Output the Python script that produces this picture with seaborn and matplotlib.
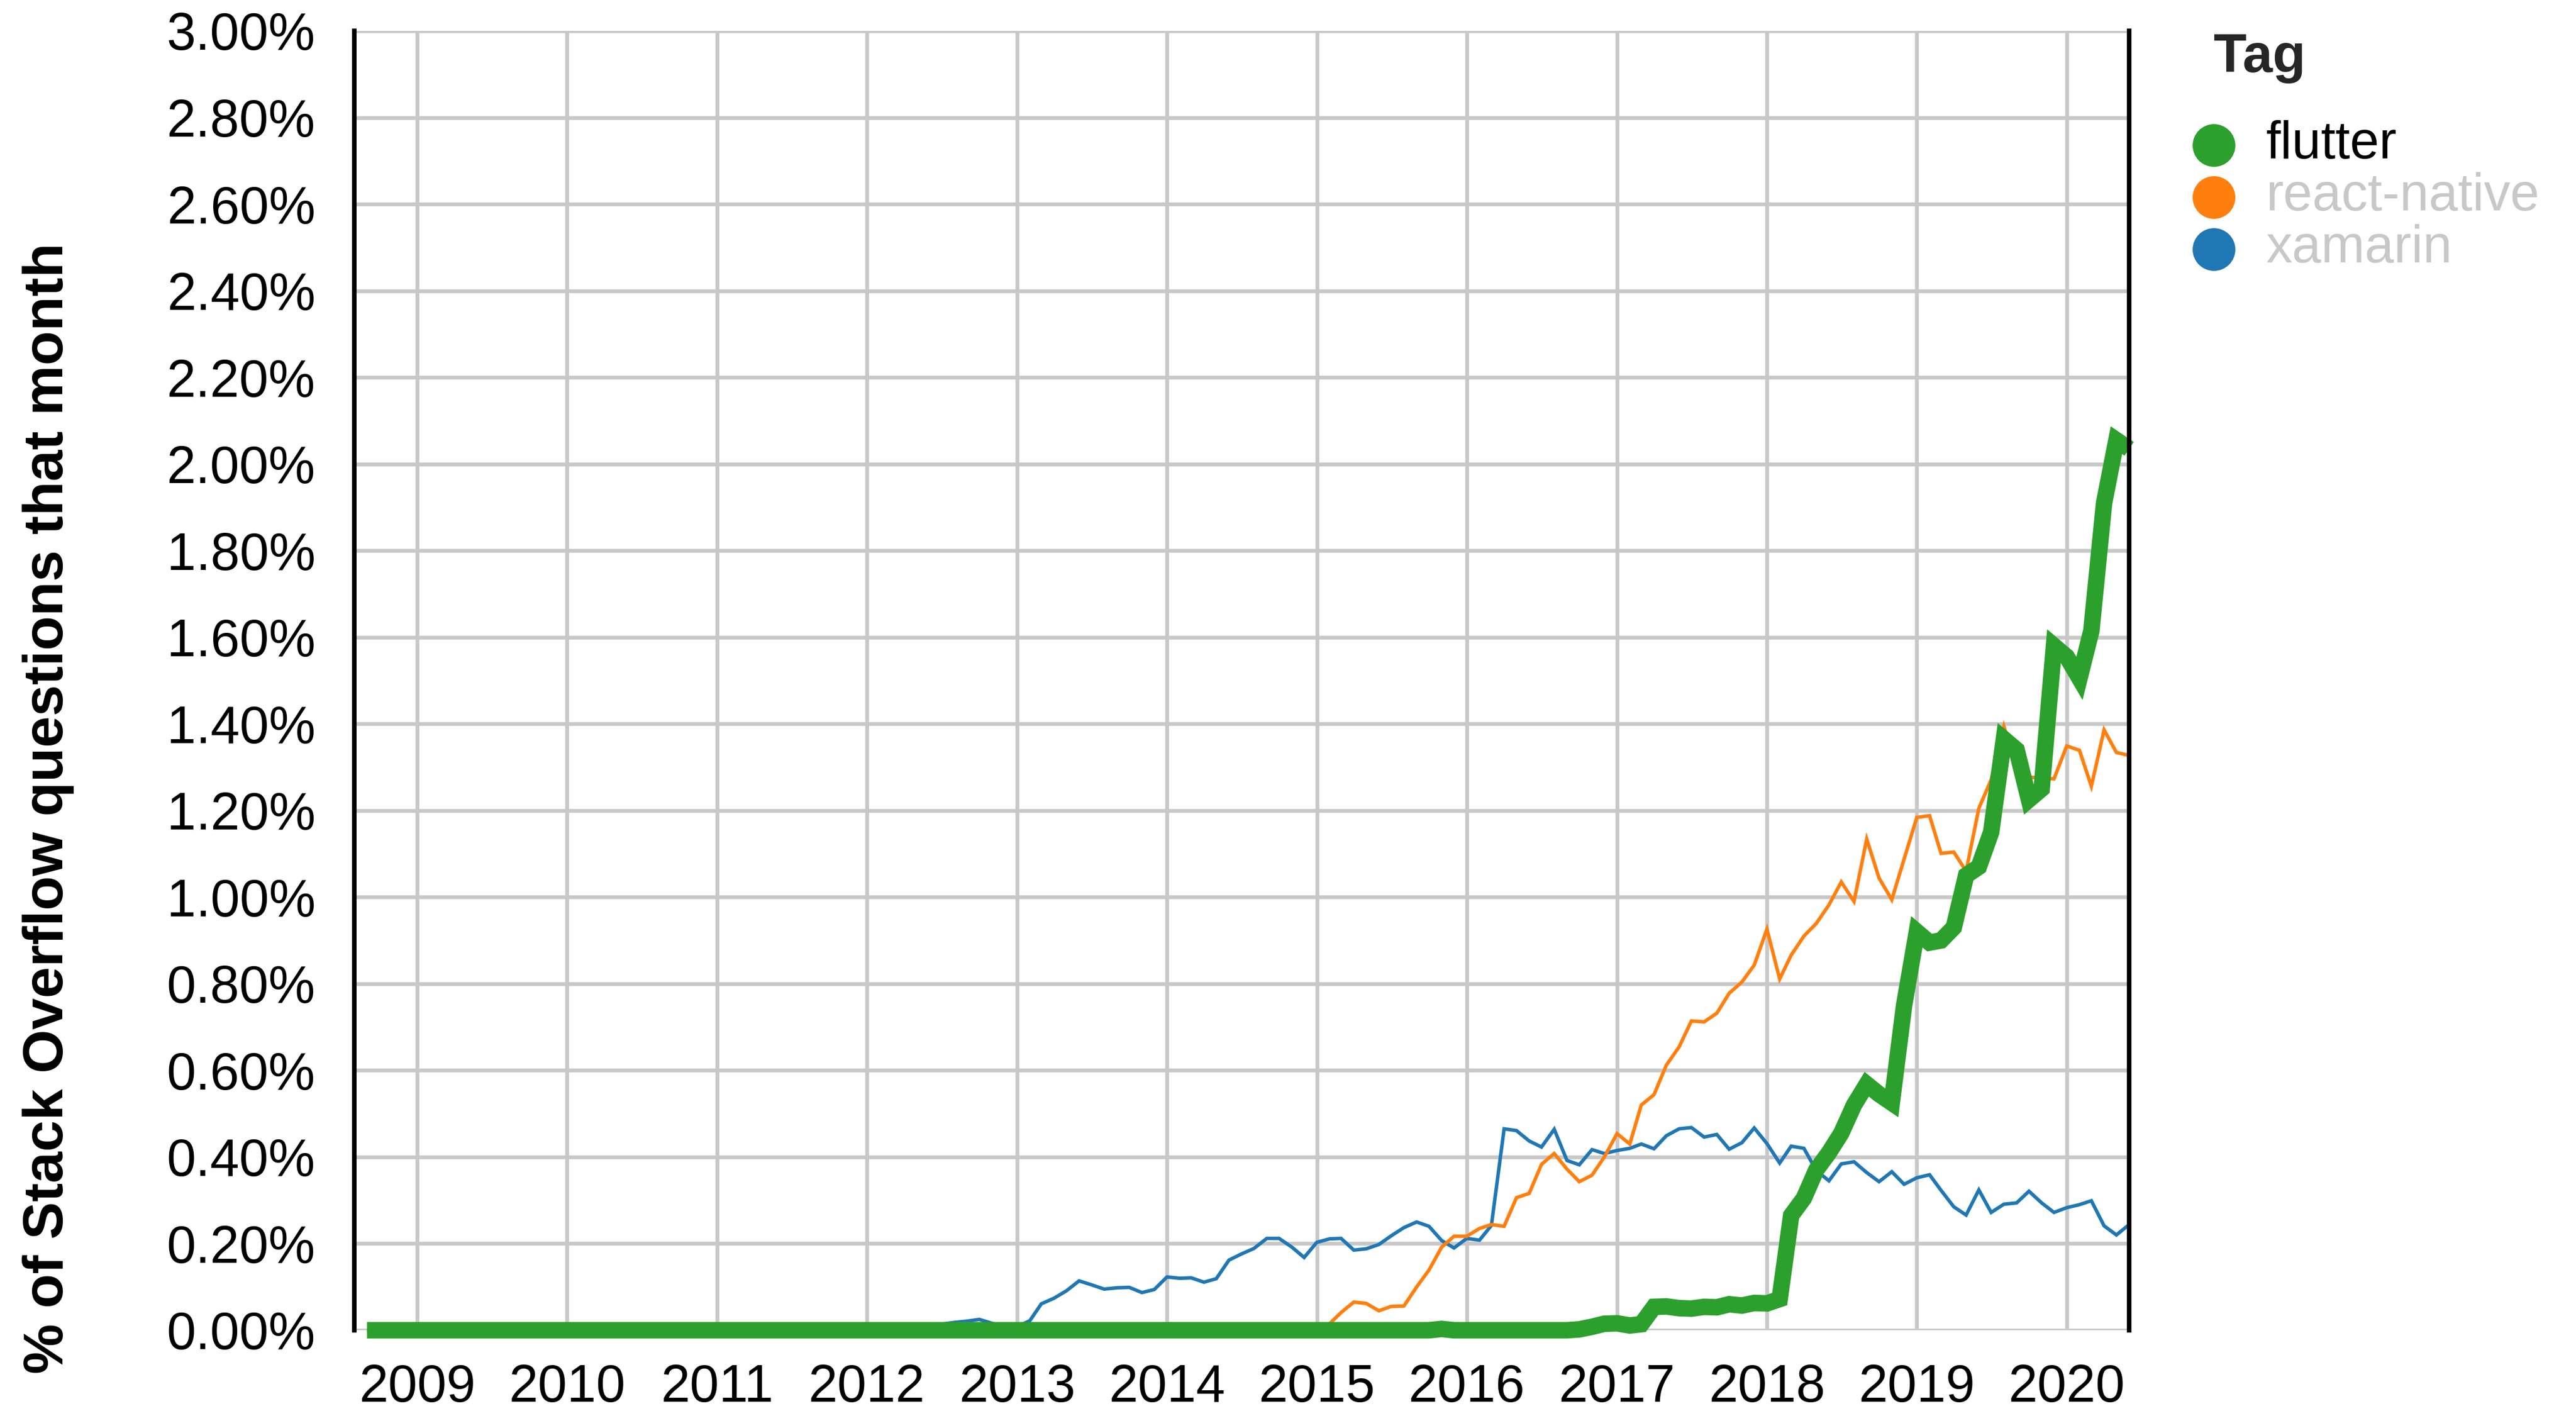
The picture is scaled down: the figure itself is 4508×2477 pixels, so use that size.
import pandas as pd
import seaborn as sns
import matplotlib.pyplot as plt
import matplotlib.dates as mdates
from matplotlib.lines import Line2D
from matplotlib.ticker import FuncFormatter

# monthly share of Stack Overflow questions (%), Sep 2008 .. Jun 2020
months = pd.date_range("2008-09-01", "2020-06-01", freq="MS")

flutter = [
    0, 0, 0, 0,                                                        # 2008
    0, 0, 0, 0, 0, 0, 0, 0, 0, 0, 0, 0,                                # 2009
    0, 0, 0, 0, 0, 0, 0, 0, 0, 0, 0, 0,                                # 2010
    0, 0, 0, 0, 0, 0, 0, 0, 0, 0, 0, 0,                                # 2011
    0, 0, 0, 0, 0, 0, 0, 0, 0, 0, 0, 0,                                # 2012
    0, 0, 0, 0, 0, 0, 0, 0, 0, 0, 0, 0,                                # 2013
    0, 0, 0, 0, 0, 0, 0, 0, 0, 0, 0, 0,                                # 2014
    0, 0, 0, 0, 0, 0, 0, 0, 0, 0, 0.003, 0,                            # 2015
    0, 0, 0, 0, 0, 0, 0, 0, 0, 0.002, 0.008, 0.015,                    # 2016
    0.016, 0.011, 0.014, 0.054, 0.055, 0.051, 0.050, 0.054, 0.053, 0.060, 0.057, 0.063,  # 2017
    0.062, 0.072, 0.265, 0.305, 0.370, 0.410, 0.455, 0.520, 0.568, 0.545, 0.525, 0.750,  # 2018
    0.920, 0.895, 0.900, 0.930, 1.050, 1.070, 1.150, 1.365, 1.340, 1.225, 1.250, 1.580,  # 2019
    1.555, 1.505, 1.615, 1.910, 2.055, 2.035,                          # 2020
]

react_native = [
    0, 0, 0, 0,                                                        # 2008
    0, 0, 0, 0, 0, 0, 0, 0, 0, 0, 0, 0,                                # 2009
    0, 0, 0, 0, 0, 0, 0, 0, 0, 0, 0, 0,                                # 2010
    0, 0, 0, 0, 0, 0, 0, 0, 0, 0, 0, 0,                                # 2011
    0, 0, 0, 0, 0, 0, 0, 0, 0, 0, 0, 0,                                # 2012
    0, 0, 0, 0, 0, 0, 0, 0, 0, 0, 0, 0,                                # 2013
    0, 0, 0, 0, 0, 0, 0, 0, 0, 0, 0, 0,                                # 2014
    0, 0.015, 0.041, 0.065, 0.062, 0.045, 0.055, 0.056, 0.100, 0.139, 0.192, 0.217,  # 2015
    0.217, 0.235, 0.244, 0.240, 0.306, 0.316, 0.383, 0.408, 0.372, 0.343, 0.358, 0.400,  # 2016
    0.454, 0.430, 0.520, 0.544, 0.612, 0.654, 0.714, 0.712, 0.732, 0.778, 0.804, 0.843,  # 2017
    0.926, 0.811, 0.866, 0.910, 0.939, 0.982, 1.035, 0.990, 1.134, 1.044, 0.994, 1.088,  # 2018
    1.184, 1.188, 1.101, 1.104, 1.060, 1.205, 1.271, 1.394, 1.300, 1.277, 1.275, 1.273,  # 2019
    1.349, 1.339, 1.256, 1.386, 1.334, 1.327,                          # 2020
]

xamarin = [
    0, 0, 0, 0,                                                        # 2008
    0, 0, 0, 0, 0, 0, 0, 0, 0, 0, 0, 0,                                # 2009
    0, 0, 0, 0, 0, 0, 0, 0, 0, 0, 0, 0,                                # 2010
    0, 0, 0, 0, 0, 0, 0, 0, 0, 0, 0, 0,                                # 2011
    0, 0, 0, 0, 0, 0.004, 0.014, 0.018, 0.021, 0.025, 0.016, 0.008,    # 2012
    0.008, 0.022, 0.061, 0.074, 0.091, 0.114, 0.105, 0.095, 0.098, 0.099, 0.087, 0.094,  # 2013
    0.123, 0.120, 0.121, 0.111, 0.119, 0.162, 0.176, 0.189, 0.212, 0.212, 0.192, 0.168,  # 2014
    0.203, 0.211, 0.212, 0.185, 0.188, 0.198, 0.218, 0.237, 0.250, 0.240, 0.207, 0.190,  # 2015
    0.212, 0.208, 0.242, 0.465, 0.461, 0.437, 0.423, 0.464, 0.392, 0.382, 0.417, 0.408,  # 2016
    0.415, 0.420, 0.430, 0.419, 0.449, 0.465, 0.468, 0.446, 0.452, 0.418, 0.433, 0.467,  # 2017
    0.431, 0.386, 0.425, 0.420, 0.369, 0.345, 0.384, 0.389, 0.364, 0.343, 0.366, 0.337,  # 2018
    0.352, 0.359, 0.323, 0.285, 0.266, 0.324, 0.272, 0.291, 0.294, 0.321, 0.294, 0.272,  # 2019
    0.283, 0.290, 0.299, 0.241, 0.220, 0.244,                          # 2020
]

tags = ["flutter", "react-native", "xamarin"]
colors = {"flutter": "#2ca02c", "react-native": "#ff7f0e", "xamarin": "#1f77b4"}
widths = {"flutter": 10.4, "react-native": 2.2, "xamarin": 2.2}
year_ticks = list(range(2009, 2021))

df = pd.concat([
    pd.DataFrame({"month": months, "pct": flutter, "tag": "flutter"}),
    pd.DataFrame({"month": months, "pct": react_native, "tag": "react-native"}),
    pd.DataFrame({"month": months, "pct": xamarin, "tag": "xamarin"}),
])

sns.set_style("whitegrid")
plt.rcParams["font.family"] = ["Liberation Sans", "DejaVu Sans"]

fig = plt.figure(figsize=(22.54, 12.385), dpi=200)
ax = fig.add_axes([0.13754, 0.06056, 0.68899, 0.91764])

# selected tag drawn last, on top
for tag in ["xamarin", "react-native", "flutter"]:
    sns.lineplot(data=df[df["tag"] == tag], x="month", y="pct", ax=ax,
                 color=colors[tag], linewidth=widths[tag], legend=False,
                 clip_on=False, solid_joinstyle="miter", solid_capstyle="butt")

x0 = mdates.date2num(pd.Timestamp("2008-08-01"))
x1 = mdates.date2num(pd.Timestamp("2020-06-01"))
ax.set_xlim(x0, x1)
ax.set_ylim(0, 3.0)

ax.set_xticks([mdates.date2num(pd.Timestamp(f"{y}-01-01")) for y in year_ticks])
ax.set_xticklabels([str(y) for y in year_ticks])
ax.set_xticks([x0, x1], minor=True)
ax.set_yticks([i * 0.2 for i in range(16)])
ax.yaxis.set_major_formatter(FuncFormatter(lambda v, p: f"{v:.2f}%"))

ax.grid(True, which="major", color="#c8c8c8", linewidth=2.4)
ax.set_axisbelow(True)
ax.tick_params(axis="x", which="major", length=15, width=2.8, color="black",
               labelsize=33, pad=6, labelcolor="black")
ax.tick_params(axis="x", which="minor", length=15, width=2.8, color="black")
ax.tick_params(axis="y", length=16.5, width=2.8, color="black",
               labelsize=33, pad=8, labelcolor="black")

for side in ["top", "bottom"]:
    ax.spines[side].set_visible(False)
for side in ["left", "right"]:
    ax.spines[side].set_visible(True)
    ax.spines[side].set_color("black")
    ax.spines[side].set_linewidth(2.9)

ax.set_xlabel("")
ax.set_ylabel("")
fig.text(0.0244, 0.4293, "% of Stack Overflow questions that month", rotation=90,
         rotation_mode="anchor", ha="center", va="baseline",
         fontsize=35.5, fontweight="bold", color="black")

# legend, flutter highlighted
fig.text(0.8594, 0.94913, "Tag", fontsize=34, fontweight="bold", ha="left", va="baseline")
circle_y = [0.89746, 0.86072, 0.82398]
label_y = [0.88817, 0.85143, 0.81470]
for i, tag in enumerate(tags):
    fig.add_artist(Line2D([0.8594], [circle_y[i]], marker="o", markersize=25.9,
                          color=colors[tag], linestyle="none", transform=fig.transFigure))
    fig.text(0.8797, label_y[i], tag, fontsize=33, ha="left", va="baseline",
             color="black" if tag == "flutter" else "#c8c8c8")

fig.savefig("out.png", dpi=200)
